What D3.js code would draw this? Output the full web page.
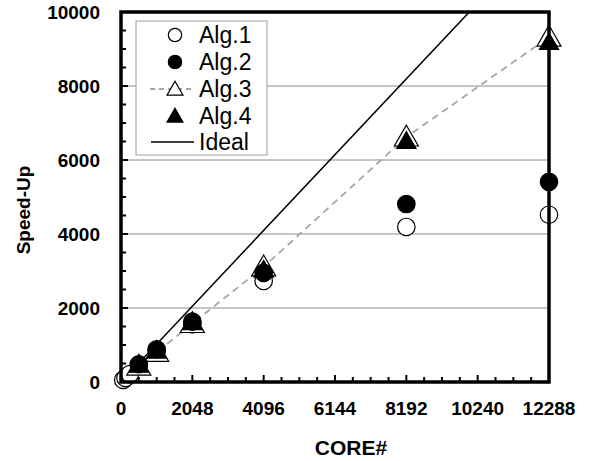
<!DOCTYPE html>
<html>
<head>
<meta charset="utf-8">
<script src="https://cdn.jsdelivr.net/npm/d3@7"></script>
<style>
  body { margin: 0; background: #fff; }
  svg { display: block; font-family: "Liberation Sans", Arial, sans-serif; }
  text { fill: #000; }
</style>
</head>
<body>
<div id="chart"></div>
<script>
// ---- Data ----
const cores = [64, 128, 256, 512, 1024, 2048, 4096, 8192, 12288];
const alg1 = [55, 110, 215, 450, 840, 1560, 2730, 4190, 4520];
const alg2 = [null, null, null, 480, 880, 1630, 2950, 4810, 5410];
const alg3 = [null, null, null, 430, 800, 1580, 3110, 6620, 9320];
const alg4 = [null, null, null, 470, 850, 1620, 3040, 6520, 9190];
const xTicks = [0, 2048, 4096, 6144, 8192, 10240, 12288];
const yTicks = [0, 2000, 4000, 6000, 8000, 10000];
const legendNames = ["Alg.1", "Alg.2", "Alg.3", "Alg.4", "Ideal"];

const width = 589, height = 461;
const margin = { top: 12, right: 40, bottom: 79, left: 121 };

const svg = d3.select("#chart").append("svg")
  .attr("width", width).attr("height", height);

const x = d3.scaleLinear([0, 12288], [margin.left, width - margin.right]);
const y = d3.scaleLinear([0, 10000], [height - margin.bottom, margin.top]);

const pts = arr => cores.map((c, i) => [c, arr[i]]).filter(d => d[1] != null);

// gridlines
svg.append("g").selectAll("line")
  .data(yTicks.filter(v => v > 0 && v < 10000))
  .join("line")
  .attr("x1", x(0)).attr("x2", x(12288))
  .attr("y1", d => y(d)).attr("y2", d => y(d))
  .attr("stroke", "#8c8c8c").attr("stroke-width", 1);

// ideal line, clipped to the plot
svg.append("clipPath").attr("id", "plot")
  .append("rect")
  .attr("x", x(0)).attr("y", y(10000))
  .attr("width", x(12288) - x(0)).attr("height", y(0) - y(10000));

svg.append("line")
  .attr("clip-path", "url(#plot)")
  .attr("x1", x(0)).attr("y1", y(0))
  .attr("x2", x(12288)).attr("y2", y(12288))
  .attr("stroke", "#000").attr("stroke-width", 1.5);

// Alg.3 dashed line
svg.append("path")
  .attr("d", d3.line().x(d => x(d[0])).y(d => y(d[1]))(pts(alg3)))
  .attr("fill", "none")
  .attr("stroke", "#a6a6a6").attr("stroke-width", 1.8)
  .attr("stroke-dasharray", "7,5");

// markers
const circle = d3.symbol(d3.symbolCircle);
const tri = d3.symbol(d3.symbolTriangle);

function marker(g, kind, size, filled) {
  const path = kind === "circle" ? circle.size(size)() : tri.size(size)();
  return g.append("path")
    .attr("d", path)
    .attr("fill", filled ? "#000" : "#fff")
    .attr("stroke", "#000").attr("stroke-width", 1.2);
}

function series(arr, kind, size, filled, dy) {
  const g = svg.append("g");
  for (const d of pts(arr)) {
    marker(g, kind, size, filled)
      .attr("transform", `translate(${x(d[0])},${y(d[1]) + dy})`);
  }
}

series(alg1, "circle", 240, false, 0);
series(alg3, "tri", 250, false, 2);
series(alg2, "circle", 240, true, 0);
series(alg4, "tri", 160, true, 2);

// frame
svg.append("rect")
  .attr("x", x(0)).attr("y", y(10000))
  .attr("width", x(12288) - x(0)).attr("height", y(0) - y(10000))
  .attr("fill", "none").attr("stroke", "#000").attr("stroke-width", 3.5);

// ticks (inside)
const xMinor = d3.range(0, 12288, 512).filter(v => v > 0);
svg.append("g").selectAll("line").data(xMinor).join("line")
  .attr("x1", d => x(d)).attr("x2", d => x(d))
  .attr("y1", y(0)).attr("y2", d => y(0) - (d % 2048 === 0 ? 7 : 5))
  .attr("stroke", "#000").attr("stroke-width", 2);

const yMinor = d3.range(500, 10000, 500);
svg.append("g").selectAll("line").data(yMinor).join("line")
  .attr("y1", d => y(d)).attr("y2", d => y(d))
  .attr("x1", x(0)).attr("x2", d => x(0) + (d % 2000 === 0 ? 7 : 5))
  .attr("stroke", "#000").attr("stroke-width", 2);

// tick labels
svg.append("g").selectAll("text").data(xTicks).join("text")
  .attr("x", d => x(d)).attr("y", 415)
  .attr("text-anchor", "middle")
  .attr("font-size", 19).attr("font-weight", "bold")
  .text(d => d);

svg.append("g").selectAll("text").data(yTicks).join("text")
  .attr("x", 100).attr("y", d => y(d) + 7)
  .attr("text-anchor", "end")
  .attr("font-size", 19).attr("font-weight", "bold")
  .text(d => d);

// axis titles
svg.append("text")
  .attr("x", 351).attr("y", 455)
  .attr("text-anchor", "middle")
  .attr("font-size", 21).attr("font-weight", "bold")
  .text("CORE#");

svg.append("text")
  .attr("transform", "translate(30,210) rotate(-90)")
  .attr("text-anchor", "middle")
  .attr("font-size", 19).attr("font-weight", "bold")
  .text("Speed-Up");

// legend
const lg = svg.append("g");
lg.append("rect")
  .attr("x", 136).attr("y", 21).attr("width", 131).attr("height", 134)
  .attr("fill", "#fff").attr("stroke", "#a0a0a0").attr("stroke-width", 1);

const rowY = [35, 62, 89, 116, 142];
legendNames.forEach((name, i) => {
  const cy = rowY[i];
  if (i === 2) {
    lg.append("line").attr("x1", 150).attr("x2", 193).attr("y1", cy).attr("y2", cy)
      .attr("stroke", "#a6a6a6").attr("stroke-width", 1.8).attr("stroke-dasharray", "5,4");
  }
  if (i === 4) {
    lg.append("line").attr("x1", 151).attr("x2", 194).attr("y1", cy).attr("y2", cy)
      .attr("stroke", "#000").attr("stroke-width", 1.3);
  } else {
    const kind = i < 2 ? "circle" : "tri";
    const filled = i === 1 || i === 3;
    marker(lg, kind, kind === "circle" ? 140 : 110, filled)
      .attr("transform", `translate(175,${cy + (kind === "tri" ? 1.5 : 0)})`);
  }
  lg.append("text")
    .attr("x", 199).attr("y", cy + 8)
    .attr("font-size", 23)
    .text(name);
});
</script>
</body>
</html>
